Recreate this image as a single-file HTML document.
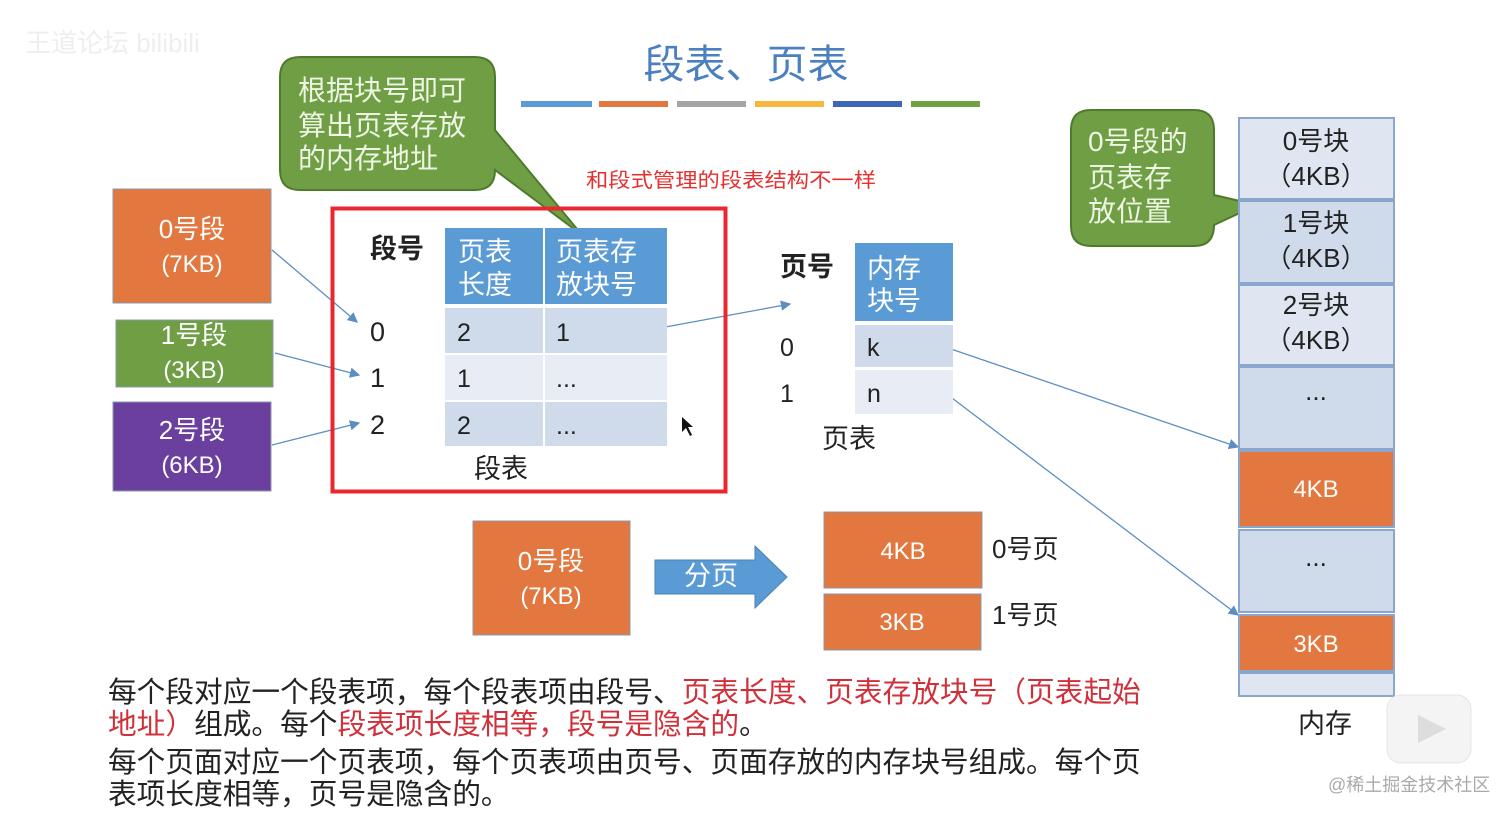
<!DOCTYPE html>
<html><head><meta charset="utf-8"><style>
html,body{margin:0;padding:0;background:#fff;width:1512px;height:817px;overflow:hidden}
svg text{font-family:"Liberation Sans","Noto Sans CJK SC",sans-serif}
</style></head><body>
<svg width="1512" height="817" viewBox="0 0 1512 817" xmlns="http://www.w3.org/2000/svg">
<defs><marker id="a" markerWidth="8" markerHeight="8" refX="7" refY="4" orient="auto"><path d="M0,0 L8,4 L0,8 Z" fill="#5b8fc4"/></marker></defs>
<text x="25" y="52" font-size="26" fill="#eee">王道论坛 bilibili</text>
<text x="746" y="78" font-size="40" fill="#4a7fc0" text-anchor="middle" font-family="Noto Sans CJK SC" textLength="205" lengthAdjust="spacingAndGlyphs">段表、页表</text>
<g stroke-width="6"><line x1="521" y1="104" x2="592" y2="104" stroke="#5b9bd5"/><line x1="599" y1="104" x2="668" y2="104" stroke="#e2773f"/><line x1="677" y1="104" x2="746" y2="104" stroke="#a5a5a5"/><line x1="755" y1="104" x2="824" y2="104" stroke="#f5b83d"/><line x1="833" y1="104" x2="902" y2="104" stroke="#3d65b8"/><line x1="911" y1="104" x2="980" y2="104" stroke="#70a044"/></g>
<path d="M300,57 H475 Q495,57 495,77 V130 L582,235 L495,170 V170 Q495,190 475,190 H300 Q280,190 280,170 V77 Q280,57 300,57Z" fill="#6f9e44" stroke="#4f7a2c" stroke-width="2"/>
<g font-size="28" fill="#eef5e4" font-family="Noto Serif CJK SC"><text x="298" y="100">根据块号即可</text><text x="298" y="135">算出页表存放</text><text x="298" y="168">的内存地址</text></g>
<text x="586" y="187" font-size="20" fill="#e53030" font-family="Noto Serif CJK SC" textLength="290" lengthAdjust="spacingAndGlyphs">和段式管理的段表结构不一样</text>
<rect x="113" y="189" width="158" height="114" fill="#e2773f" stroke="#8a9aaa"/>
<text x="192" y="238" font-size="26" fill="#fff" text-anchor="middle">0号段</text><text x="192" y="272" font-size="24" fill="#fff" text-anchor="middle">(7KB)</text>
<rect x="116" y="320" width="157" height="67" fill="#6f9e44" stroke="#8a9aaa"/>
<text x="194" y="344" font-size="26" fill="#fff" text-anchor="middle">1号段</text><text x="194" y="378" font-size="24" fill="#fff" text-anchor="middle">(3KB)</text>
<rect x="113" y="402" width="158" height="89" fill="#6a3f9d" stroke="#8a9aaa"/>
<text x="192" y="439" font-size="26" fill="#fff" text-anchor="middle">2号段</text><text x="192" y="473" font-size="24" fill="#fff" text-anchor="middle">(6KB)</text>
<g stroke="#5b8fc4" stroke-width="1.3" marker-end="url(#a)"><line x1="272" y1="250" x2="357" y2="322"/><line x1="275" y1="353" x2="359" y2="375"/><line x1="272" y1="445" x2="359" y2="423"/><line x1="660" y1="328" x2="790" y2="304"/><line x1="948" y1="348" x2="1238" y2="447"/><line x1="948" y1="395" x2="1238" y2="615"/></g>
<rect x="332.5" y="208.5" width="393" height="283" fill="none" stroke="#e8282e" stroke-width="4"/>
<g font-size="27" fill="#222"><text x="370" y="258" font-weight="bold" font-family="Noto Sans CJK SC">段号</text><text x="370" y="341">0</text><text x="370" y="387">1</text><text x="370" y="434">2</text></g>
<rect x="445" y="228" width="98" height="76" fill="#5b9bd5"/><rect x="545" y="228" width="122" height="76" fill="#5b9bd5"/>
<g font-size="27" fill="#fff" font-family="Noto Sans CJK SC"><text x="458" y="261">页表</text><text x="458" y="294">长度</text><text x="556" y="261">页表存</text><text x="556" y="294">放块号</text></g>
<rect x="445" y="308" width="98" height="45" fill="#cfdbea"/><rect x="545" y="308" width="122" height="45" fill="#cfdbea"/>
<rect x="445" y="355" width="98" height="45" fill="#e8edf5"/><rect x="545" y="355" width="122" height="45" fill="#e8edf5"/>
<rect x="445" y="402" width="98" height="44" fill="#cfdbea"/><rect x="545" y="402" width="122" height="44" fill="#cfdbea"/>
<g font-size="25" fill="#222"><text x="457" y="341">2</text><text x="556" y="341">1</text><text x="457" y="387">1</text><text x="556" y="387">...</text><text x="457" y="434">2</text><text x="556" y="434">...</text></g>
<text x="474" y="478" font-size="27" fill="#222" font-family="Noto Sans CJK SC">段表</text>
<path d="M682,417 L682,432 L686,428 L690,436 L692,435 L688,427 L693,427Z" fill="#111"/>
<text x="780" y="276" font-size="27" font-weight="bold" fill="#222" font-family="Noto Sans CJK SC">页号</text>
<rect x="855" y="243" width="98" height="78" fill="#5b9bd5"/>
<g font-size="27" fill="#fff" font-family="Noto Sans CJK SC"><text x="867" y="278">内存</text><text x="867" y="310">块号</text></g>
<rect x="855" y="325" width="98" height="42" fill="#cfdbea"/><rect x="855" y="370" width="98" height="44" fill="#e8edf5"/>
<g font-size="25" fill="#222"><text x="780" y="356">0</text><text x="780" y="402">1</text><text x="867" y="356">k</text><text x="867" y="402">n</text></g>
<text x="822" y="448" font-size="27" fill="#222" font-family="Noto Sans CJK SC">页表</text>
<path d="M1091,110 H1194 Q1214,110 1214,130 V195 L1257,205 L1214,225 Q1214,246 1194,246 H1091 Q1071,246 1071,226 V130 Q1071,110 1091,110Z" fill="#6f9e44" stroke="#4f7a2c" stroke-width="2"/>
<g font-size="28" fill="#eef5e4" font-family="Noto Serif CJK SC"><text x="1088" y="151">0号段的</text><text x="1088" y="187">页表存</text><text x="1088" y="221">放位置</text></g>
<g stroke="#8aa6cc" stroke-width="2">
<rect x="1239" y="118" width="155" height="81" fill="#dfe6f1"/><rect x="1239" y="201" width="155" height="82" fill="#cfdbea"/><rect x="1239" y="285" width="155" height="80" fill="#dfe6f1"/><rect x="1239" y="367" width="155" height="82" fill="#cfdbea"/><rect x="1239" y="451" width="155" height="76" fill="#e2773f"/><rect x="1239" y="530" width="155" height="82" fill="#cfdbea"/><rect x="1239" y="615" width="155" height="56" fill="#e2773f"/><rect x="1239" y="673" width="155" height="23" fill="#dfe6f1"/></g>
<g font-size="26" fill="#222" text-anchor="middle"><text x="1316" y="150">0号块</text><text x="1316" y="185">（4KB）</text><text x="1316" y="232">1号块</text><text x="1316" y="267">（4KB）</text><text x="1316" y="314">2号块</text><text x="1316" y="349">（4KB）</text><text x="1316" y="400">...</text><text x="1316" y="566">...</text></g>
<g font-size="24" fill="#fff" text-anchor="middle"><text x="1316" y="497">4KB</text><text x="1316" y="652">3KB</text></g>
<text x="1298" y="733" font-size="27" fill="#222" font-family="Noto Sans CJK SC">内存</text>
<rect x="473" y="521" width="157" height="114" fill="#e2773f" stroke="#8a9aaa"/>
<text x="551" y="570" font-size="26" fill="#fff" text-anchor="middle">0号段</text><text x="551" y="604" font-size="24" fill="#fff" text-anchor="middle">(7KB)</text>
<path d="M655,560 H755 V546 L787,577 L755,608 V594 H655Z" fill="#5b9bd5" stroke="#4a80b5"/>
<text x="684" y="585" font-size="27" fill="#fff" font-family="Noto Sans CJK SC">分页</text>
<rect x="824" y="512" width="158" height="76" fill="#e2773f" stroke="#8a9aaa"/><rect x="824" y="594" width="157" height="56" fill="#e2773f" stroke="#8a9aaa"/>
<g font-size="24" fill="#fff" text-anchor="middle"><text x="903" y="559">4KB</text><text x="902" y="630">3KB</text></g>
<g font-size="26" fill="#222"><text x="992" y="558">0号页</text><text x="992" y="624">1号页</text></g>
<g font-size="28.7" fill="#222" font-family="Noto Serif CJK SC">
<text x="108" y="702">每个段对应一个段表项，每个段表项由段号、<tspan fill="#d0303a">页表长度、页表存放块号（页表起始</tspan></text>
<text x="108" y="734"><tspan fill="#d0303a">地址）</tspan>组成。每个<tspan fill="#d0303a">段表项长度相等，段号是隐含的</tspan>。</text>
<text x="108" y="772">每个页面对应一个页表项，每个页表项由页号、页面存放的内存块号组成。每个页</text>
<text x="108" y="804">表项长度相等，页号是隐含的。</text></g>
<rect x="1387" y="695" width="84" height="68" rx="14" fill="#f4f4f4" stroke="#e5e5e5"/>
<path d="M1418,715 L1446,729 L1418,743Z" fill="#ddd"/>
<text x="1328" y="791" font-size="18" fill="#aaa">@稀土掘金技术社区</text>
</svg>
</body></html>
